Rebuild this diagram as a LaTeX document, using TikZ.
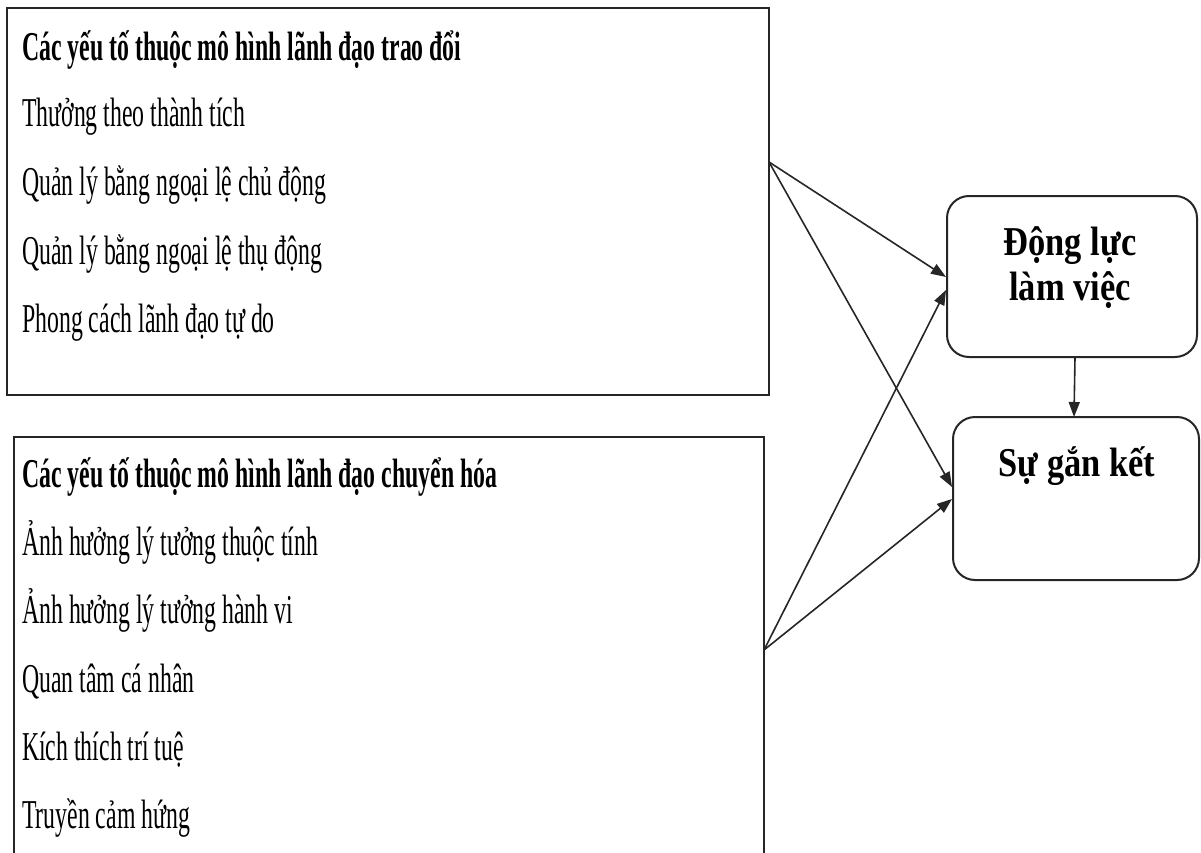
\documentclass[tikz,border=0pt]{standalone}
\usepackage{fontspec}
\setmainfont{Liberation Serif}
\newfontfamily\condfont[FakeStretch=0.58]{Liberation Serif}
\newfontfamily\widefont[FakeStretch=0.84]{Liberation Serif}
\usetikzlibrary{arrows.meta}
\begin{document}
\begin{tikzpicture}[x=1pt,y=-1pt,
  boxline/.style={draw=black!85,line width=2pt},
  sqbox/.style={boxline,rectangle},
  rbox/.style={boxline,rounded corners=22pt},
  txt/.style={anchor=base west,inner sep=0pt,font=\condfont\fontsize{41}{44}\selectfont},
  btxt/.style={txt,font=\condfont\bfseries\fontsize{41}{44}\selectfont},
  ctxt/.style={anchor=base,inner sep=0pt,font=\widefont\bfseries\fontsize{41}{44}\selectfont},
  conn/.style={draw=black!85,line width=1.6pt,-{Triangle[length=15pt,width=11pt]}}
]
\useasboundingbox (0,0) rectangle (1201,853);
\fill[white] (0,0) rectangle (1201,853);
% boxes
\draw[sqbox] (7,8) rectangle (769,395);
\draw[sqbox] (14,437) rectangle (764,880);
\draw[rbox] (947,196) rectangle (1197,357);
\draw[rbox] (953,417) rectangle (1199,580);
\node[inner sep=0pt,minimum width=762pt,minimum height=387pt] (b1) at (388,201.5) {};
\node[inner sep=0pt,minimum width=750pt,minimum height=443pt] (b2) at (389,658.5) {};
\node[inner sep=0pt,minimum width=250pt,minimum height=161pt] (dl) at (1072,276.5) {};
\node[inner sep=0pt,minimum width=246pt,minimum height=163pt] (gk) at (1076,498.5) {};
% texts box 1
\node[btxt] (t10) at (22,61) {Các yếu tố thuộc mô hình lãnh đạo trao đổi};
\node[txt] (t11) at (22,127) {Thưởng theo thành tích};
\node[txt] (t12) at (22,196) {Quản lý bằng ngoại lệ chủ động};
\node[txt] (t13) at (22,264) {Quản lý bằng ngoại lệ thụ động};
\node[txt] (t14) at (22,332) {Phong cách lãnh đạo tự do};
% texts box 2
\node[btxt] (t20) at (22,487) {Các yếu tố thuộc mô hình lãnh đạo chuyển hóa};
\node[txt] (t21) at (22,555) {Ảnh hưởng lý tưởng thuộc tính};
\node[txt] (t22) at (22,623) {Ảnh hưởng lý tưởng hành vi};
\node[txt] (t23) at (22,692) {Quan tâm cá nhân};
\node[txt] (t24) at (22,760) {Kích thích trí tuệ};
\node[txt] (t25) at (22,828) {Truyền cảm hứng};
% right texts
\node[ctxt] (d1) at (1070,255) {Động lực};
\node[ctxt] (d2) at (1070,300) {làm việc};
\node[ctxt] (g1) at (1077,476) {Sự gắn kết};
% connector points
\coordinate (s1) at (769,162);
\coordinate (s2) at (764,650);
\coordinate (e1a) at (946,277);
\coordinate (e1b) at (946,290);
\coordinate (e2a) at (952,487);
\coordinate (e2b) at (952,499);
\coordinate (v1) at (1075,357);
\coordinate (v2) at (1074,417);
\draw[conn] (s1) -- (e1a);
\draw[conn] (s1) -- (e2a);
\draw[conn] (s2) -- (e1b);
\draw[conn] (s2) -- (e2b);
\draw[conn] (v1) -- (v2);
\end{tikzpicture}
\end{document}
